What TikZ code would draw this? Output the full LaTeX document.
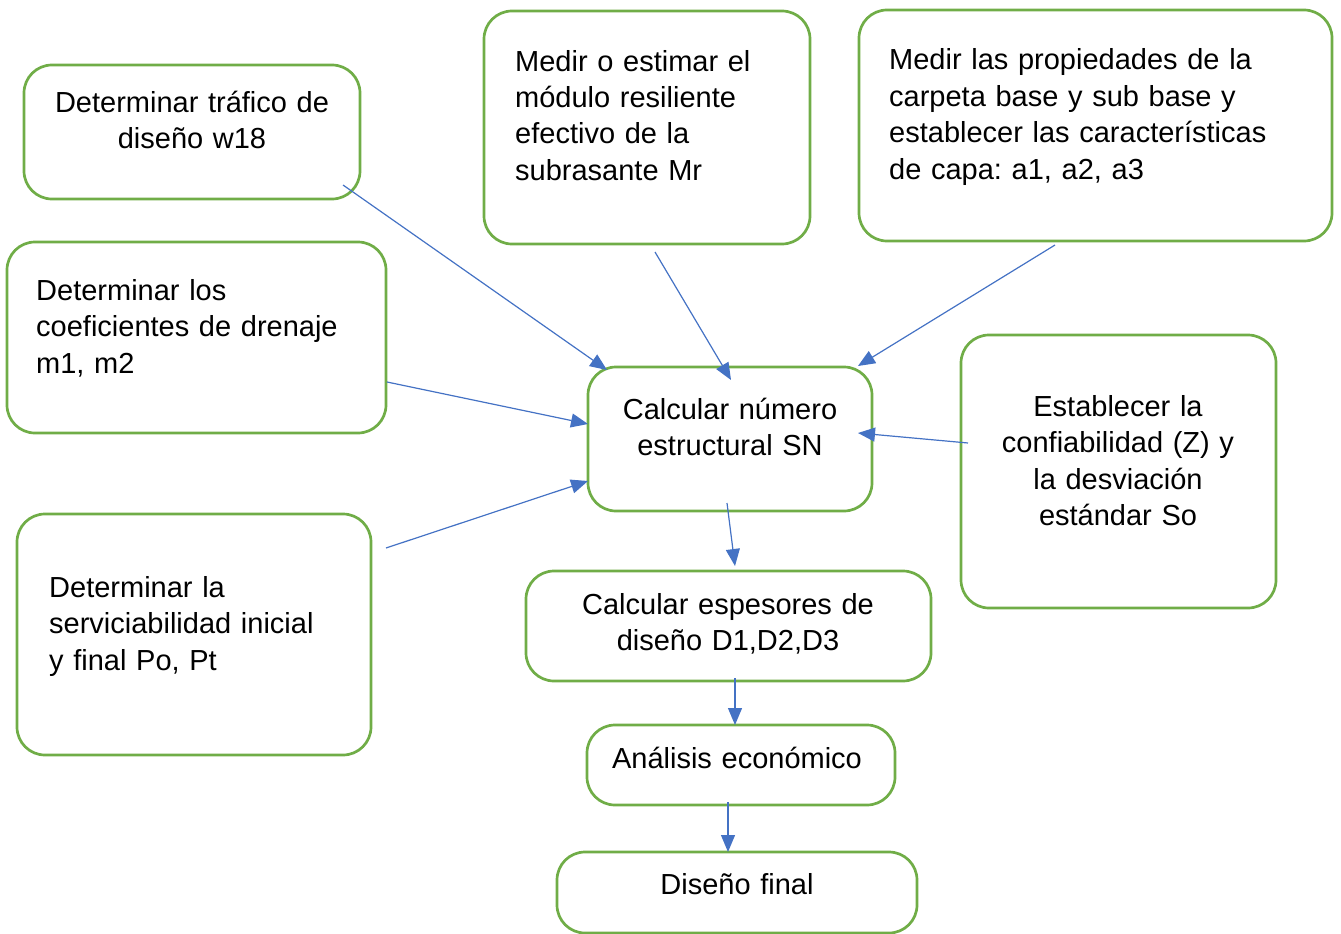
\documentclass[tikz,border=0pt]{standalone}
\usepackage{fontspec}
\setmainfont{Liberation Sans}
\usetikzlibrary{arrows.meta}
\frenchspacing
\definecolor{boxgreen}{HTML}{70AD47}
\definecolor{arrowblue}{HTML}{4472C4}
\tikzset{
  box/.style={draw=boxgreen, line width=2.7pt, rounded corners=28pt, inner sep=0pt},
  txt/.style={inner sep=0pt, font=\fontsize{29}{36.5}\selectfont},
  txtl/.style={txt, anchor=base west, text width=460pt, align=left},
  txtc/.style={txt, anchor=base, text width=400pt, align=center},
  flow/.style={draw=arrowblue, line width=1.2pt, -{Triangle[length=17pt,width=14pt]}}
}
\begin{document}
\begin{tikzpicture}[x=1pt, y=-1pt]
\useasboundingbox (0,0) rectangle (1341,934);

% rounded boxes
\node[box, minimum width=336pt, minimum height=134pt] (traf) at (192,132) {};
\node[box, minimum width=326pt, minimum height=233pt] (modulo) at (647,127.5) {};
\node[box, minimum width=473pt, minimum height=231pt] (prop) at (1095.5,125.5) {};
\node[box, minimum width=379pt, minimum height=191pt] (dren) at (196.5,337.5) {};
\node[box, minimum width=354pt, minimum height=241pt] (serv) at (194,634.5) {};
\node[box, minimum width=284pt, minimum height=144pt] (sn) at (730,439) {};
\node[box, minimum width=315pt, minimum height=273pt] (conf) at (1118.5,471.5) {};
\node[box, minimum width=405pt, minimum height=110pt] (esp) at (728.5,626) {};
\node[box, minimum width=308pt, minimum height=80pt] (anal) at (741,765) {};
\node[box, minimum width=360pt, minimum height=81pt] (final) at (737,892.5) {};

% texts
\node[txtc] (trafT) at (192,112) {Determinar tráfico de\\diseño w18};
\node[txtl] (moduloT) at (515,71) {Medir o estimar el\\módulo resiliente\\efectivo de la\\subrasante Mr};
\node[txtl] (propT) at (889,70) {Medir las propiedades de la\\carpeta base y sub base y\\establecer las características\\de capa: a1, a2, a3};
\node[txtl] (drenT) at (36,300) {Determinar los\\coeficientes de drenaje\\m1, m2};
\node[txtl] (servT) at (49,597) {Determinar la\\serviciabilidad inicial\\y final Po, Pt};
\node[txtc] (snT) at (730,419) {Calcular número\\estructural SN};
\node[txtc] (confT) at (1118,416) {Establecer la\\confiabilidad (Z) y\\la desviación\\estándar So};
\node[txtc] (espT) at (728,614) {Calcular espesores de\\diseño D1,D2,D3};
\node[txtc] (analT) at (737,768) {Análisis económico};
\node[txtc] (finalT) at (737,894) {Diseño final};

% connector end points
\coordinate (a1s) at (343,185);  \coordinate (a1e) at (607,370);
\coordinate (a2s) at (655,252);  \coordinate (a2e) at (731,380);
\coordinate (a3s) at (1055,245); \coordinate (a3e) at (858,366);
\coordinate (a4s) at (387,382);  \coordinate (a4e) at (588,424);
\coordinate (a5s) at (386,548);  \coordinate (a5e) at (588,481);
\coordinate (a6s) at (968,443);  \coordinate (a6e) at (858,433);
\coordinate (a7s) at (727,503);  \coordinate (a7e) at (735,566);
\coordinate (a8s) at (735,678);  \coordinate (a8e) at (735,725);
\coordinate (a9s) at (728,802);  \coordinate (a9e) at (728,852);

% connectors
\draw[flow] (a1s) -- (a1e);
\draw[flow] (a2s) -- (a2e);
\draw[flow] (a3s) -- (a3e);
\draw[flow] (a4s) -- (a4e);
\draw[flow] (a5s) -- (a5e);
\draw[flow] (a6s) -- (a6e);
\draw[flow] (a7s) -- (a7e);
\draw[flow] (a8s) -- (a8e);
\draw[flow] (a9s) -- (a9e);
\end{tikzpicture}
\end{document}
